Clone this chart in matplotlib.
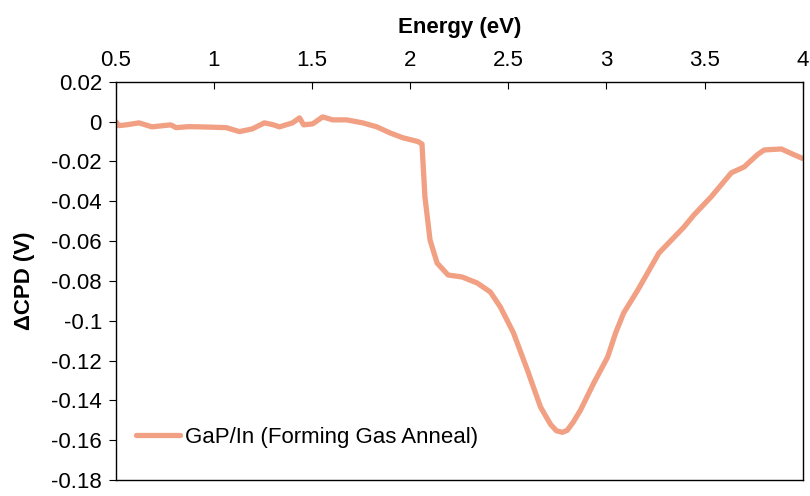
import numpy as np
import matplotlib.pyplot as plt

plt.rcParams['font.family'] = ['Liberation Sans', 'DejaVu Sans']

# values
energy = [0.50, 0.515, 0.56, 0.618, 0.684, 0.78, 0.807, 0.87, 0.925, 1.00, 1.063,
          1.13, 1.196, 1.257, 1.30, 1.334, 1.40, 1.436, 1.457, 1.503, 1.554,
          1.605, 1.676, 1.758, 1.83, 1.896, 1.963, 2.04, 2.060, 2.075, 2.101,
          2.137, 2.193, 2.265, 2.341, 2.408, 2.459, 2.526, 2.597, 2.664, 2.715,
          2.745, 2.775, 2.80, 2.83, 2.868, 2.935, 3.006, 3.047, 3.088, 3.160,
          3.267, 3.395, 3.446, 3.533, 3.636, 3.702, 3.77, 3.804, 3.891, 3.958,
          4.00]
dcpd = [0.0, -0.002, -0.0015, -0.0006, -0.0026, -0.0016, -0.003, -0.0025, -0.0026,
        -0.0028, -0.003, -0.005, -0.0036, -0.0006, -0.0015, -0.0026, -0.0006,
        0.0019, -0.0016, -0.0011, 0.0024, 0.0009, 0.0009, -0.0006, -0.0026,
        -0.0056, -0.0081, -0.0100, -0.0112, -0.0378, -0.0594, -0.0710, -0.0770,
        -0.0780, -0.0810, -0.0855, -0.0930, -0.1060, -0.1247, -0.1433, -0.1520,
        -0.1552, -0.1560, -0.1550, -0.1510, -0.1448, -0.1313, -0.1182, -0.1060,
        -0.0960, -0.0845, -0.0660, -0.0529, -0.0468, -0.0378, -0.0257, -0.0227,
        -0.0165, -0.0142, -0.0137, -0.0167, -0.0185]

xticks = [0.5, 1, 1.5, 2, 2.5, 3, 3.5, 4]
xticklabels = ['0.5', '1', '1.5', '2', '2.5', '3', '3.5', '4']
yticks = [0.02, 0, -0.02, -0.04, -0.06, -0.08, -0.1, -0.12, -0.14, -0.16, -0.18]
yticklabels = ['0.02', '0', '-0.02', '-0.04', '-0.06', '-0.08', '-0.1', '-0.12',
               '-0.14', '-0.16', '-0.18']

fig = plt.figure(figsize=(8.1, 4.96), dpi=100)
ax = fig.add_axes([0.143, 0.032, 0.848, 0.803])

ax.plot(energy, dcpd, color='#F2A083', linewidth=3.8,
        label='GaP/In (Forming Gas Anneal)', solid_capstyle='round',
        solid_joinstyle='round')

ax.set_xlim(0.5, 4)
ax.set_ylim(-0.18, 0.02)
ax.xaxis.tick_top()
ax.xaxis.set_label_position('top')
ax.set_xticks(xticks)
ax.set_xticklabels(xticklabels)
ax.set_yticks(yticks)
ax.set_yticklabels(yticklabels)
ax.tick_params(axis='x', direction='in', length=5, labelsize=16, pad=8)
ax.tick_params(axis='y', direction='out', length=5, labelsize=16, pad=5)
ax.set_xlabel('Energy (eV)', fontsize=16, fontweight='bold', labelpad=12)
ax.set_ylabel('ΔCPD (V)', fontsize=16, fontweight='bold', labelpad=12)
for s in ax.spines.values():
    s.set_linewidth(1.0)

ax.legend(loc='lower left', frameon=False, fontsize=16, handlelength=2.0,
          handletextpad=0.2, borderaxespad=0.5, bbox_to_anchor=(0.0, 0.03))

fig.savefig('out.png', dpi=100)
